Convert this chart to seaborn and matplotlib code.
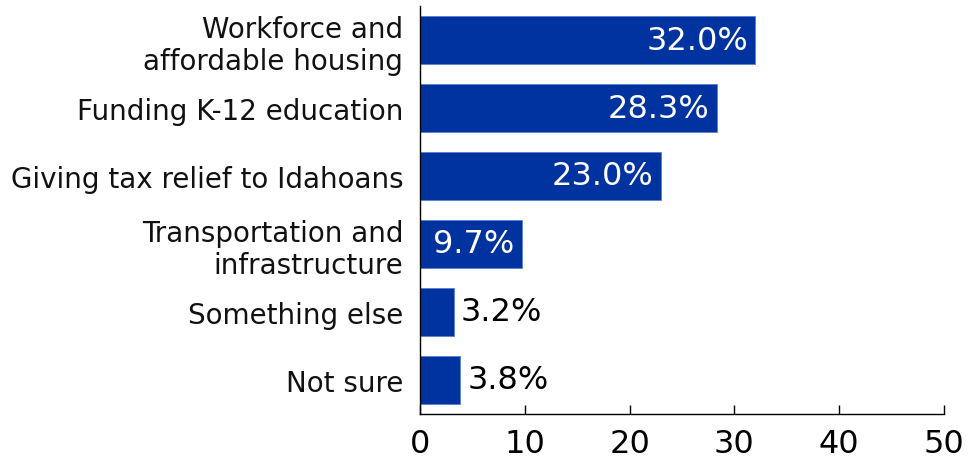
import matplotlib
matplotlib.use("Agg")
import matplotlib.pyplot as plt
import seaborn as sns
import pandas as pd

categories = [
    "Workforce and\naffordable housing",
    "Funding K-12 education",
    "Giving tax relief to Idahoans",
    "Transportation and\ninfrastructure",
    "Something else",
    "Not sure",
]
shares = [32.0, 28.3, 23.0, 9.7, 3.2, 3.8]
x_ticks = [0, 10, 20, 30, 40, 50]

BAR_COLOR = "#0033A0"

sns.set_theme(style="white")
plt.rcParams["font.family"] = ["DejaVu Sans"]

df = pd.DataFrame({"category": categories, "share": shares})

fig = plt.figure(figsize=(9.69, 4.6), dpi=100)
ax = fig.add_axes([420 / 969, 45 / 460, 524 / 969, 408 / 460])

sns.barplot(data=df, x="share", y="category", orient="h", color=BAR_COLOR,
            saturation=1, width=0.72, ax=ax, edgecolor="#5a7fd0", linewidth=0.6)

ax.set_xlim(0, 50)
ax.set_ylim(5.5, -0.5)
ax.set_xticks(x_ticks)
ax.set_xticklabels([str(t) for t in x_ticks])
ax.set_xlabel("")
ax.set_ylabel("")

for side in ("top", "right"):
    ax.spines[side].set_visible(False)
for side in ("left", "bottom"):
    ax.spines[side].set_color("black")
    ax.spines[side].set_linewidth(1.0)

ax.tick_params(axis="x", direction="in", length=6.5, width=1.0, color="black",
               labelsize=23, pad=10, bottom=True)
ax.tick_params(axis="y", length=0, labelsize=20, pad=12)
for lbl in ax.get_yticklabels():
    lbl.set_linespacing(1.2)
    lbl.set_color("#111111")
for lbl in ax.get_xticklabels():
    lbl.set_color("black")

# Value labels: inside the bar (white) when it is long enough, otherwise just past its end
for i, v in enumerate(shares):
    text = f"{v:.1f}%"
    if v >= 8:
        ax.text(v - 0.7, i, text, ha="right", va="center", color="white", fontsize=23)
    else:
        ax.text(v + 0.7, i, text, ha="left", va="center", color="black", fontsize=23)

fig.savefig("out.png", dpi=100)
